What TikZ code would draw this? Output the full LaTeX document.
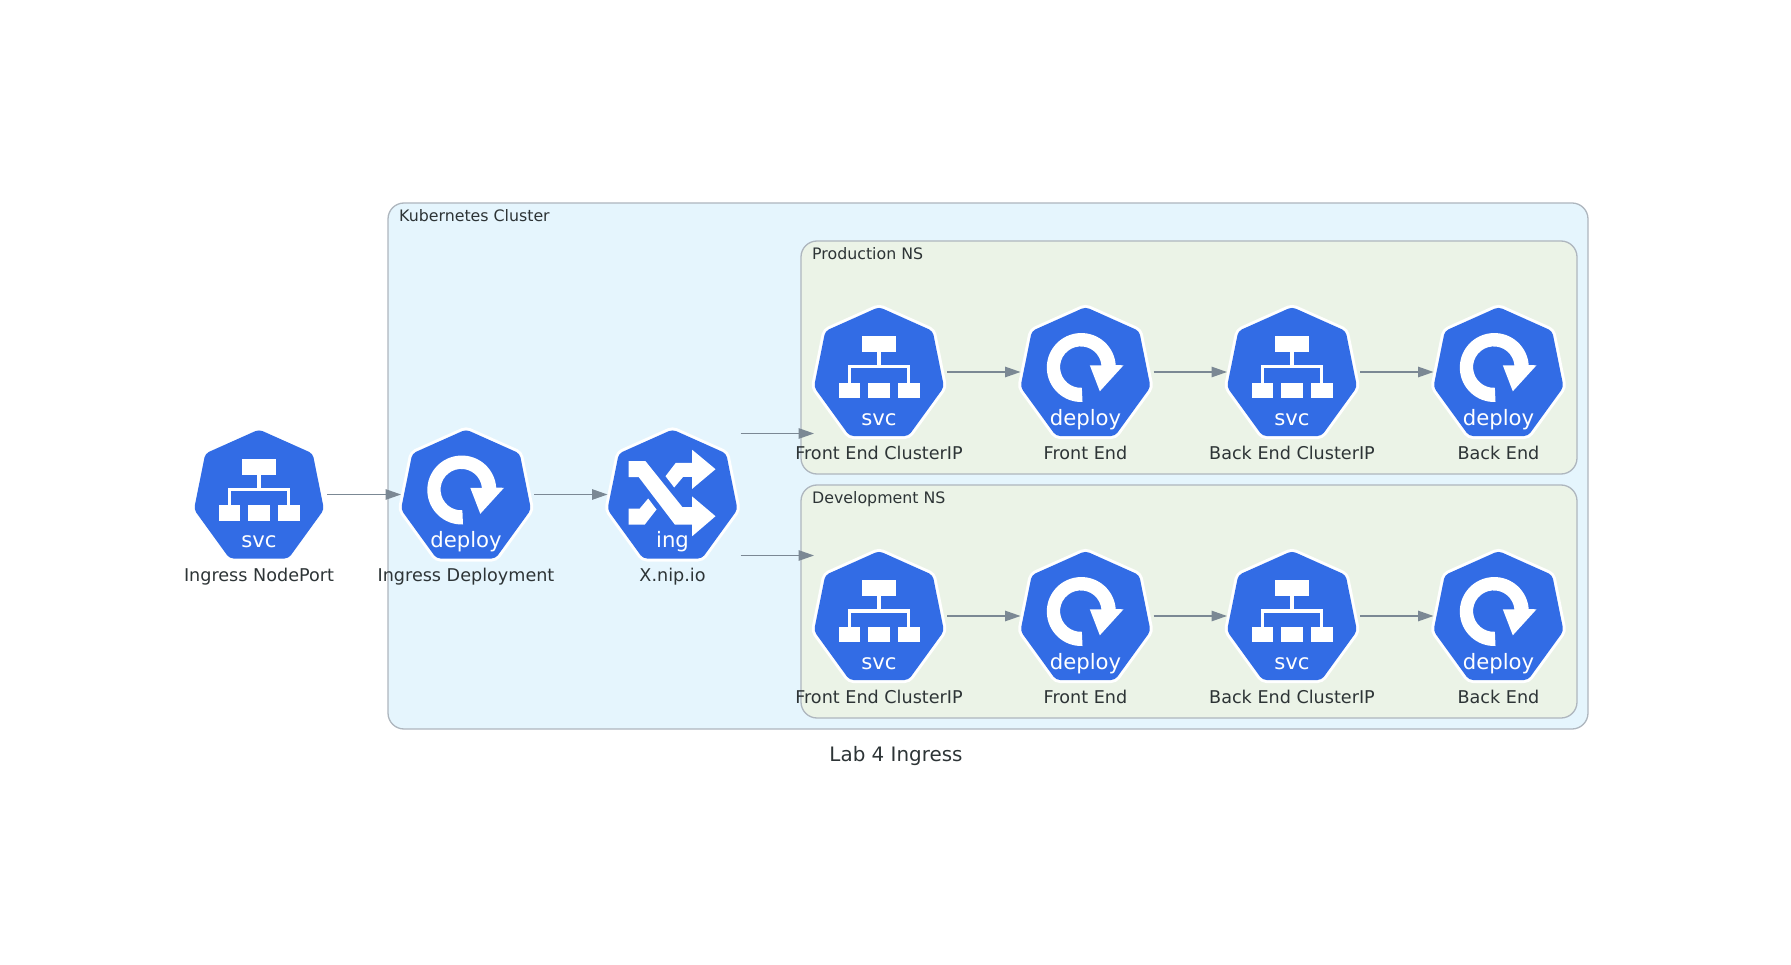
\documentclass[tikz,border=0pt]{standalone}
\usepackage{fontspec}
\setmainfont{DejaVu Sans}
\usetikzlibrary{calc}
\usetikzlibrary{arrows.meta}
\definecolor{kubeblue}{HTML}{326CE5}
\definecolor{inktext}{HTML}{2D3436}
\definecolor{edgegrey}{HTML}{7B8894}
\definecolor{rimgrey}{HTML}{AEB6BE}
\definecolor{clusterfill}{HTML}{E5F5FD}
\definecolor{nsfill}{HTML}{EBF3E7}
\tikzstyle{iconbox} = [inner sep=0, outer sep=0, minimum width=130, minimum height=122]
\tikzstyle{icontag} = [anchor=base, inner sep=0, text=white, font=\fontsize{21.2}{25}\selectfont]
\tikzstyle{iconlabel} = [anchor=base, inner sep=0, text=inktext, font=\fontsize{17.6}{21}\selectfont]
\tikzstyle{titlelabel} = [anchor=base west, inner sep=0, text=inktext, font=\fontsize{15.8}{19}\selectfont]
\tikzstyle{clusterbox} = [draw=rimgrey, line width=1.3, rounded corners=16, fill=clusterfill]
\tikzstyle{nsbox} = [draw=rimgrey, line width=1.3, rounded corners=16, fill=nsfill]
\tikzstyle{flow} = [draw=edgegrey, line width=1.3, -{Triangle[length=15.5pt,width=10.5pt]}, shorten <=3pt]
\tikzset{
  kubebody/.pic={
    \path[fill=kubeblue, rounded corners=4, preaction={draw=white, line width=6, rounded corners=4}]
      (0,64) -- (29.5,64) -- (65,15) -- (53.7,-41) -- (0,-65) -- (-53.7,-41) -- (-65,15) -- (-29.5,64) -- cycle;
  },
  svcicon/.pic={
    \pic {kubebody};
    \fill[white] (-17.3,-36) rectangle (17.3,-20);
    \fill[white] (-40.3,10.7) rectangle (-18.7,26.3);
    \fill[white] (-10.7,10.7) rectangle (11,26.3);
    \fill[white] (19,10.7) rectangle (40.7,26.3);
    \draw[white, line width=3.4] (0,-20) -- (0,-5.2);
    \draw[white, line width=3.4] (-29.5,10.7) -- (-29.5,-5.2) -- (29.5,-5.2) -- (29.5,10.7);
    \node[icontag] (tag) at (0,53.3) {svc};
  },
  deployicon/.pic={
    \pic {kubebody};
    \fill[white] (-3,30) arc[start angle=88, end angle=356, radius=34.5] -- (38,-6.7) -- (14.3,19.3)
      -- (4.3,-6.7) -- (15.9,-6.7) arc[start angle=355, end angle=87, radius=20.7] -- cycle;
    \node[icontag] (tag) at (0,53.3) {deploy};
  },
  ingicon/.pic={
    \pic {kubebody};
    \fill[white] (-44,-33.3) -- (-27,-33.3) -- (10,12.7) -- (19.7,12.7) -- (19.7,2) -- (43,21.7)
      -- (19.7,41.7) -- (19.7,30) -- (2.3,30) -- (-33.7,-17.3) -- (-44,-17.3) -- cycle;
    \fill[white] (19.7,-44.7) -- (43,-25.3) -- (19.7,-5.7) -- (19.7,-17.7) -- (10.7,-17.7) -- (1.7,-7)
      -- (-7,-18.3) -- (3.3,-31.7) -- (19.7,-31.7) -- cycle;
    \fill[white] (-44,14) -- (-32.7,14) -- (-24.3,4) -- (-16,15) -- (-27.7,30) -- (-44,30) -- cycle;
    \node[icontag] (tag) at (0,53.3) {ing};
  }
}

\begin{document}
\begin{tikzpicture}[x=1pt, y=-1pt]
    \useasboundingbox (0,0) rectangle (1791,965);

    % clusters
    \draw[clusterbox] (388,203) rectangle (1588,729);
    \draw[nsbox] (801,241) rectangle (1577,474);
    \draw[nsbox] (801,485) rectangle (1577,718);
    \node[titlelabel] (cluster_title) at (399,222) {Kubernetes Cluster};
    \node[titlelabel] (prod_title) at (812,260) {Production NS};
    \node[titlelabel] (dev_title) at (812,503.5) {Development NS};

    % ingress chain
    \node[iconbox] (ing_svc) at (259,494.5) {};
    \node[iconbox] (ing_deploy) at ($(ing_svc)+(207,0)$) {};
    \node[iconbox] (ing_x) at ($(ing_deploy)+(206.5,0)$) {};
    \pic (ing_svc_) at (ing_svc) {svcicon};
    \pic (ing_deploy_) at (ing_deploy) {deployicon};
    \pic (ing_x_) at (ing_x) {ingicon};
    \node[iconlabel] (ing_svc_label) at ($(ing_svc)+(0,87)$) {Ingress NodePort};
    \node[iconlabel] (ing_deploy_label) at ($(ing_deploy)+(0,87)$) {Ingress Deployment};
    \node[iconlabel] (ing_x_label) at ($(ing_x)+(0,87)$) {X.nip.io};
    \draw[flow] (ing_svc) -- (ing_deploy);
    \draw[flow] (ing_deploy) -- (ing_x);

    % production row
    \node[iconbox] (prod_fe_svc) at (879,372) {};
    \node[iconbox] (prod_fe) at ($(prod_fe_svc)+(206.5,0)$) {};
    \node[iconbox] (prod_be_svc) at ($(prod_fe)+(206.5,0)$) {};
    \node[iconbox] (prod_be) at ($(prod_be_svc)+(206.5,0)$) {};
    \pic (prod_fe_svc_) at (prod_fe_svc) {svcicon};
    \pic (prod_fe_) at (prod_fe) {deployicon};
    \pic (prod_be_svc_) at (prod_be_svc) {svcicon};
    \pic (prod_be_) at (prod_be) {deployicon};
    \node[iconlabel] (prod_fe_svc_label) at ($(prod_fe_svc)+(0,87)$) {Front End ClusterIP};
    \node[iconlabel] (prod_fe_label) at ($(prod_fe)+(0,87)$) {Front End};
    \node[iconlabel] (prod_be_svc_label) at ($(prod_be_svc)+(0,87)$) {Back End ClusterIP};
    \node[iconlabel] (prod_be_label) at ($(prod_be)+(0,87)$) {Back End};
    \draw[flow] (prod_fe_svc) -- (prod_fe);
    \draw[flow] (prod_fe) -- (prod_be_svc);
    \draw[flow] (prod_be_svc) -- (prod_be);

    % development row
    \node[iconbox] (dev_fe_svc) at (879,616) {};
    \node[iconbox] (dev_fe) at ($(dev_fe_svc)+(206.5,0)$) {};
    \node[iconbox] (dev_be_svc) at ($(dev_fe)+(206.5,0)$) {};
    \node[iconbox] (dev_be) at ($(dev_be_svc)+(206.5,0)$) {};
    \pic (dev_fe_svc_) at (dev_fe_svc) {svcicon};
    \pic (dev_fe_) at (dev_fe) {deployicon};
    \pic (dev_be_svc_) at (dev_be_svc) {svcicon};
    \pic (dev_be_) at (dev_be) {deployicon};
    \node[iconlabel] (dev_fe_svc_label) at ($(dev_fe_svc)+(0,87)$) {Front End ClusterIP};
    \node[iconlabel] (dev_fe_label) at ($(dev_fe)+(0,87)$) {Front End};
    \node[iconlabel] (dev_be_svc_label) at ($(dev_be_svc)+(0,87)$) {Back End ClusterIP};
    \node[iconlabel] (dev_be_label) at ($(dev_be)+(0,87)$) {Back End};
    \draw[flow] (dev_fe_svc) -- (dev_fe);
    \draw[flow] (dev_fe) -- (dev_be_svc);
    \draw[flow] (dev_be_svc) -- (dev_be);

    % edges into the namespaces
    \coordinate (prod_in) at (814,433.5);
    \coordinate (dev_in) at (814,555.5);
    \draw[flow] (ing_x.north east) -- (prod_in);
    \draw[flow] (ing_x.south east) -- (dev_in);

    \node[iconlabel, font=\fontsize{19.9}{24}\selectfont] (lab_title) at (896,761) {Lab 4 Ingress};
\end{tikzpicture}
\end{document}
